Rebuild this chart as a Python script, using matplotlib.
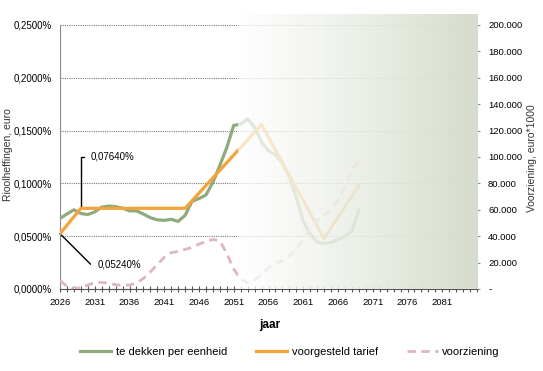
import numpy as np
import matplotlib.pyplot as plt
from matplotlib.lines import Line2D
from matplotlib.ticker import MultipleLocator, FixedLocator, FuncFormatter

plt.rcParams['font.family'] = ['Liberation Sans', 'DejaVu Sans']

# data (percent units for the tariff axis, euro for voorziening)
years = list(range(2026, 2070))
te_dekken = [0.0669, 0.0710, 0.0750, 0.0715, 0.0705, 0.0730, 0.0775, 0.0785, 0.0780, 0.0765,
             0.0740, 0.0740, 0.0710, 0.0675, 0.0655, 0.0650, 0.0660, 0.0640, 0.0698, 0.0830,
             0.0857, 0.0890, 0.1010, 0.1170, 0.1340, 0.1550, 0.1560, 0.1610, 0.1530, 0.1390,
             0.1310, 0.1270, 0.1190, 0.1060, 0.0870, 0.0640, 0.0520, 0.0445, 0.0430, 0.0440,
             0.0470, 0.0500, 0.0550, 0.0750]
tarief_jaren = [2026, 2029, 2044, 2055, 2064, 2069]
tarief = [0.0524, 0.0764, 0.0764, 0.1557, 0.0478, 0.0980]
voorziening = [6300, 2000, 600, 800, 3000, 4800, 5000, 4400, 3200, 2800,
               3000, 4500, 8000, 13000, 18500, 24000, 27500, 28500, 30000, 31500,
               34000, 36000, 37500, 36500, 27000, 15000, 7500, 4500, 7000, 11000,
               16000, 19500, 21500, 25000, 30000, 38000, 46000, 52000, 56000, 60000,
               67000, 77000, 90000, 97000]
jaar_labels = list(range(2026, 2082, 5))

green = '#8faa7c'
orange = '#f5a23a'
pink = '#dcb6c2'
grey = '#8c8c8c'

fig = plt.figure(figsize=(5.43, 3.71), dpi=100)
ax = fig.add_axes([60/543, 1-289/371, 417/543, 264/371])
ax2 = ax.twinx()

ax.plot(years, te_dekken, color=green, lw=2.3, zorder=3)
ax.plot(tarief_jaren, tarief, color=orange, lw=2.3, zorder=4)
ax2.plot(years, voorziening, color=pink, lw=2.0, ls=(0, (3, 2)), zorder=2)

ax.set_xlim(2026, 2086)
ax.set_ylim(0, 0.25)

ax.yaxis.set_major_locator(MultipleLocator(0.05))
ax.yaxis.set_major_formatter(FuncFormatter(lambda v, p: f"{v:.4f}%".replace('.', ',')))
ax.grid(axis='y', color='#7a7a7a', lw=0.8, ls=(0, (1, 1)))
ax.set_axisbelow(True)

ax.xaxis.set_major_locator(FixedLocator(jaar_labels))
ax.xaxis.set_minor_locator(MultipleLocator(1))
ax.xaxis.set_major_formatter(FuncFormatter(lambda v, p: f"{int(round(v))}"))
ax.tick_params(axis='x', which='both', direction='inout', length=5, width=0.8, color='#555555',
               labelsize=6.8, pad=4)
ax.tick_params(axis='y', length=0, labelsize=7, pad=6)

for s in ['top', 'right']:
    ax.spines[s].set_visible(False)
ax.spines['left'].set_color(grey)
ax.spines['bottom'].set_color('#555555')
for s in ['top', 'right', 'left', 'bottom']:
    ax2.spines[s].set_visible(False)

ax2.yaxis.set_major_locator(MultipleLocator(20000))
ax2.yaxis.set_major_formatter(FuncFormatter(
    lambda v, p: "-" if v == 0 else f"{int(v):,}".replace(',', '.')))
ax2.tick_params(axis='y', length=2, color=grey, labelsize=6.8, pad=6)

# annotations on the tariff line
ax.annotate(f"{tarief[1]:.5f}%".replace('.', ','), xy=(tarief_jaren[1], tarief[1]),
            xytext=(7, 37), textcoords='offset points', ha='left', va='center', fontsize=7,
            arrowprops=dict(arrowstyle='-', color='black', lw=1.0, relpos=(0, 0.5),
                            shrinkA=3, shrinkB=0,
                            connectionstyle='angle,angleA=0,angleB=90,rad=0'))
ax.annotate(f"{tarief[0]:.5f}%".replace('.', ','), xy=(tarief_jaren[0], tarief[0]),
            xytext=(27, -22), textcoords='offset points', ha='left', va='center', fontsize=7,
            arrowprops=dict(arrowstyle='-', color='black', lw=1.0, relpos=(0, 0.5),
                            shrinkA=3, shrinkB=0,
                            connectionstyle='angle,angleA=0,angleB=-45,rad=0'))

# fading overlay on the right part
n = 256
t = np.linspace(0, 1, n)
c0 = np.array([1.0, 1.0, 1.0])
c1 = np.array([0.835, 0.865, 0.795])
rgba = np.zeros((1, n, 4))
rgba[0, :, :3] = c0 + (c1 - c0) * t[:, None]
rgba[0, :, 3] = 0.72 + 0.28 * t ** 0.8
ax2.imshow(rgba, extent=(2051.6, 2086, 0, 208300), aspect='auto', zorder=5,
           interpolation='bilinear', clip_on=False)
ax2.set_xlim(2026, 2086)
ax2.set_ylim(0, 200000)

fig.text(8/543, 1-155/371, 'Rioolheffingen, euro', rotation=90, ha='center', va='center',
         fontsize=7.5, color='#333333')
fig.text(532/543, 1-158/371, 'Voorziening, euro*1000', rotation=90, ha='center', va='center',
         fontsize=7.5, color='#333333')
fig.text(270/543, 1-325/371, 'jaar', ha='center', va='center', fontsize=8.5, fontweight='bold')

handles = [Line2D([], [], color=green, lw=2.3),
           Line2D([], [], color=orange, lw=2.3),
           Line2D([], [], color=pink, lw=2.0, ls=(0, (3, 2)))]
labels = ['te dekken per eenheid', 'voorgesteld tarief', 'voorziening']
fig.legend(handles, labels, loc='center', bbox_to_anchor=(290/543, 1-352/371), ncol=3,
           frameon=False, fontsize=8, handlelength=2.8, columnspacing=2.6, handletextpad=0.4)

fig.savefig('out.png', dpi=100)
